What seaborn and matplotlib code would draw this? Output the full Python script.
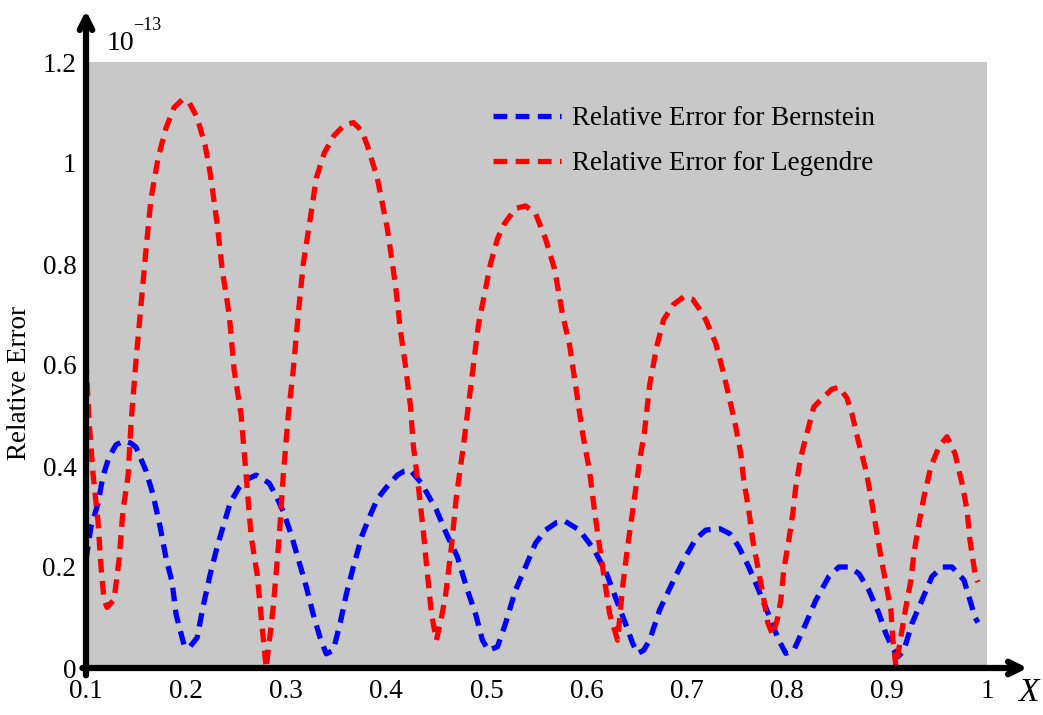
import numpy as np
import pandas as pd
import matplotlib
matplotlib.use("Agg")
import matplotlib.pyplot as plt
import seaborn as sns

# ---- data (values in units of 1e-13) ----
x_legendre = [0.100, 0.103, 0.107, 0.112, 0.115, 0.118, 0.121, 0.128, 0.133, 0.137, 0.142, 0.145, 0.150,
              0.155, 0.160, 0.165, 0.172, 0.180, 0.188, 0.196, 0.203, 0.211, 0.219, 0.224, 0.231, 0.236,
              0.243, 0.248, 0.255, 0.260, 0.265, 0.271, 0.276, 0.280, 0.287, 0.293, 0.297, 0.302, 0.307,
              0.312, 0.317, 0.324, 0.330, 0.338, 0.348, 0.358, 0.367, 0.375, 0.381, 0.391, 0.401, 0.409,
              0.414, 0.419, 0.424, 0.427, 0.432, 0.437, 0.440, 0.445, 0.450, 0.455, 0.459, 0.465, 0.470,
              0.477, 0.482, 0.487, 0.492, 0.499, 0.504, 0.511, 0.518, 0.529, 0.539, 0.549, 0.559, 0.568,
              0.576, 0.583, 0.589, 0.596, 0.603, 0.608, 0.613, 0.618, 0.623, 0.631, 0.636, 0.641, 0.646,
              0.653, 0.658, 0.663, 0.670, 0.677, 0.687, 0.697, 0.706, 0.713, 0.719, 0.729, 0.736, 0.742,
              0.749, 0.754, 0.757, 0.762, 0.766, 0.771, 0.776, 0.781, 0.786, 0.791, 0.794, 0.797, 0.802,
              0.806, 0.809, 0.814, 0.821, 0.827, 0.836, 0.845, 0.852, 0.860, 0.865, 0.872, 0.879, 0.884,
              0.889, 0.894, 0.899, 0.904, 0.906, 0.909, 0.914, 0.919, 0.924, 0.927, 0.932, 0.937, 0.944,
              0.952, 0.960, 0.968, 0.975, 0.980, 0.983, 0.988, 0.991]
y_legendre = [0.61, 0.49, 0.385, 0.29, 0.20, 0.135, 0.12, 0.135, 0.214, 0.313, 0.38, 0.485, 0.61,
              0.72, 0.83, 0.93, 1.01, 1.07, 1.11, 1.125, 1.12, 1.09, 1.035, 0.98, 0.88, 0.79,
              0.70, 0.59, 0.50, 0.38, 0.26, 0.185, 0.08, 0.0, 0.12, 0.26, 0.38, 0.50, 0.59,
              0.70, 0.80, 0.89, 0.97, 1.02, 1.055, 1.075, 1.08, 1.065, 1.035, 0.97, 0.87, 0.76,
              0.67, 0.60, 0.52, 0.44, 0.36, 0.27, 0.207, 0.108, 0.055, 0.10, 0.141, 0.24, 0.34,
              0.44, 0.52, 0.60, 0.68, 0.75, 0.80, 0.85, 0.88, 0.91, 0.915, 0.90, 0.85, 0.79,
              0.70, 0.64, 0.56, 0.465, 0.39, 0.31, 0.24, 0.174, 0.108, 0.055, 0.16, 0.24, 0.31,
              0.41, 0.47, 0.56, 0.636, 0.69, 0.72, 0.735, 0.73, 0.71, 0.69, 0.643, 0.59, 0.54,
              0.478, 0.425, 0.372, 0.313, 0.253, 0.20, 0.148, 0.09, 0.065, 0.10, 0.134, 0.194, 0.253,
              0.306, 0.359, 0.418, 0.471, 0.517, 0.535, 0.552, 0.556, 0.535, 0.504, 0.445, 0.392, 0.339,
              0.28, 0.22, 0.168, 0.115, 0.055, 0.003, 0.062, 0.121, 0.174, 0.227, 0.286, 0.339, 0.399,
              0.438, 0.458, 0.425, 0.366, 0.313, 0.253, 0.187, 0.17]

x_bernstein = [0.100, 0.105, 0.112, 0.117, 0.123, 0.130, 0.138, 0.145, 0.150, 0.160, 0.167, 0.174, 0.180,
               0.186, 0.190, 0.198, 0.203, 0.211, 0.217, 0.224, 0.231, 0.238, 0.244, 0.253, 0.261, 0.270,
               0.283, 0.290, 0.297, 0.305, 0.313, 0.320, 0.327, 0.334, 0.340, 0.347, 0.354, 0.360, 0.367,
               0.376, 0.384, 0.391, 0.401, 0.411, 0.418, 0.424, 0.435, 0.450, 0.460, 0.471, 0.481, 0.489,
               0.496, 0.502, 0.511, 0.519, 0.529, 0.539, 0.549, 0.559, 0.570, 0.578, 0.593, 0.608, 0.620,
               0.630, 0.640, 0.646, 0.651, 0.657, 0.663, 0.673, 0.687, 0.697, 0.709, 0.719, 0.733, 0.743,
               0.752, 0.762, 0.772, 0.784, 0.792, 0.799, 0.807, 0.819, 0.829, 0.842, 0.852, 0.862, 0.872,
               0.882, 0.892, 0.899, 0.905, 0.911, 0.917, 0.925, 0.935, 0.945, 0.955, 0.965, 0.977, 0.982,
               0.988, 0.991]
y_bernstein = [0.214, 0.28, 0.326, 0.38, 0.418, 0.442, 0.45, 0.445, 0.437, 0.39, 0.343, 0.28, 0.217,
               0.17, 0.106, 0.045, 0.04, 0.06, 0.122, 0.185, 0.24, 0.287, 0.327, 0.358, 0.374, 0.382,
               0.366, 0.34, 0.31, 0.264, 0.209, 0.161, 0.106, 0.059, 0.028, 0.035, 0.09, 0.146, 0.20,
               0.264, 0.303, 0.335, 0.36, 0.382, 0.39, 0.392, 0.366, 0.313, 0.266, 0.22, 0.154, 0.108,
               0.055, 0.035, 0.042, 0.088, 0.154, 0.20, 0.247, 0.273, 0.288, 0.291, 0.273, 0.233, 0.187,
               0.134, 0.082, 0.049, 0.029, 0.035, 0.055, 0.115, 0.174, 0.214, 0.255, 0.273, 0.276, 0.266,
               0.24, 0.20, 0.154, 0.095, 0.055, 0.029, 0.035, 0.088, 0.134, 0.181, 0.20, 0.20, 0.187,
               0.154, 0.108, 0.068, 0.042, 0.022, 0.035, 0.088, 0.134, 0.181, 0.20, 0.20, 0.174, 0.141,
               0.10, 0.09]

x_ticks = [0.1, 0.2, 0.3, 0.4, 0.5, 0.6, 0.7, 0.8, 0.9, 1.0]
x_tick_labels = ["0.1", "0.2", "0.3", "0.4", "0.5", "0.6", "0.7", "0.8", "0.9", "1"]
y_ticks = [0, 0.2, 0.4, 0.6, 0.8, 1.0, 1.2]
y_tick_labels = ["0", "0.2", "0.4", "0.6", "0.8", "1", "1.2"]
label_bernstein = "Relative Error for Bernstein"
label_legendre = "Relative Error for Legendre"

# ---- style ----
sns.set_style("white")
SERIF = ["Liberation Serif", "DejaVu Serif"]
plt.rcParams["font.family"] = SERIF
plt.rcParams["text.color"] = "black"

W, H = 1043, 715
fig = plt.figure(figsize=(W / 100, H / 100), dpi=100)
ax_left, ax_right, ax_bot, ax_top = 86, 987, 668, 62
ax = fig.add_axes([ax_left / W, 1 - ax_bot / H, (ax_right - ax_left) / W, (ax_bot - ax_top) / H])
ax.set_facecolor("#c8c8c8")

df_b = pd.DataFrame({"x": x_bernstein, "y": y_bernstein})
df_l = pd.DataFrame({"x": x_legendre, "y": y_legendre})

dash = (0, (2.6, 1.6))
sns.lineplot(data=df_b, x="x", y="y", ax=ax, color="#0000ff", lw=3.8, linestyle=dash,
             label=label_bernstein, sort=False, estimator=None)
sns.lineplot(data=df_l, x="x", y="y", ax=ax, color="#ff0000", lw=3.8, linestyle=dash,
             label=label_legendre, sort=False, estimator=None)

ax.set_xlim(0.1, 1.0)
ax.set_ylim(0, 1.2)
ax.set_xticks(x_ticks)
ax.set_xticklabels(x_tick_labels)
ax.set_yticks(y_ticks)
ax.set_yticklabels(y_tick_labels)
ax.tick_params(axis="both", direction="in", length=7, width=3, color="black",
               labelsize=19.5, labelcolor="black")
ax.tick_params(axis="x", pad=8)
ax.tick_params(axis="y", pad=7)
ax.set_xlabel("")
ax.set_ylabel("")

for s in ax.spines.values():
    s.set_visible(False)

# axis arrows
ax.annotate("", xy=(0, 1.085), xytext=(0, -0.012), xycoords="axes fraction",
            arrowprops=dict(arrowstyle="->,head_length=0.9,head_width=0.45", lw=4.5,
                            color="black", shrinkA=0, shrinkB=0), annotation_clip=False)
ax.annotate("", xy=(1.045, 0), xytext=(-0.004, 0), xycoords="axes fraction",
            arrowprops=dict(arrowstyle="->,head_length=0.9,head_width=0.45", lw=4.5,
                            color="black", shrinkA=0, shrinkB=0), annotation_clip=False)

leg = ax.legend(loc="upper left", bbox_to_anchor=(0.44, 0.945), frameon=False,
                fontsize=19.5, handlelength=2.5, handletextpad=0.4, labelspacing=0.75,
                borderaxespad=0)
for t in leg.get_texts():
    t.set_color("black")

# y label, exponent and x label
fig.text(20 / W, 1 - 383 / H, "Relative Error", fontsize=19.5, rotation=90,
         ha="center", va="center", family=SERIF, color="black")
fig.text(107 / W, 1 - 43 / H, "10", fontsize=20, ha="left", va="center", family=SERIF,
         color="black")
fig.text(133 / W, 1 - 26 / H, "\u221213", fontsize=13, ha="left", va="center", family=SERIF,
         color="black")
fig.text(1028 / W, 1 - 693 / H, "X", fontsize=24, style="italic", ha="center", va="center",
         family=SERIF, color="black")

fig.savefig("out.png", dpi=100)
